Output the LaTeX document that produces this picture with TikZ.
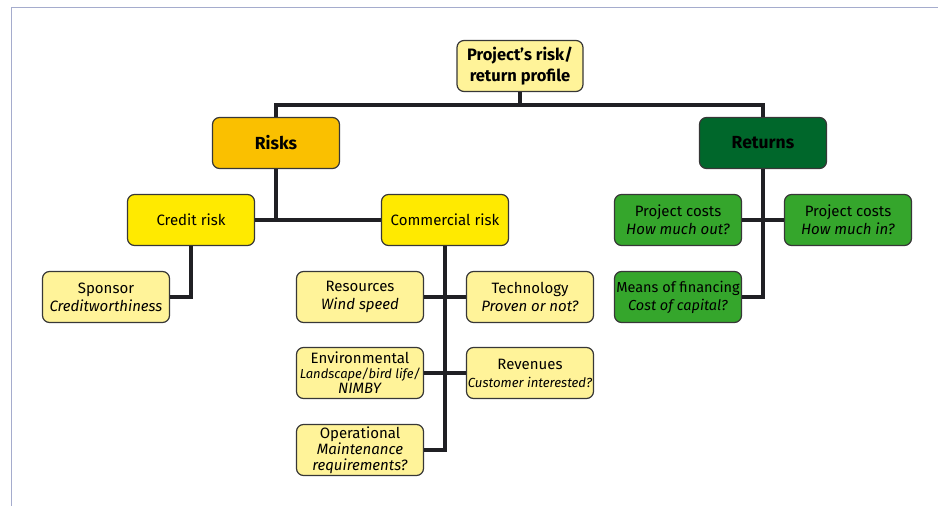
\documentclass[tikz,border=0pt]{standalone}
\usepackage{fontspec}
\setmainfont{Fira Sans}
\usetikzlibrary{positioning}

\definecolor{framegray}{RGB}{165,172,205}
\definecolor{boxline}{RGB}{55,55,55}
\definecolor{connblack}{RGB}{32,32,36}
\definecolor{paleyellow}{RGB}{255,243,153}
\definecolor{riskyellow}{RGB}{255,234,0}
\definecolor{riskorange}{RGB}{250,192,0}
\definecolor{retgreen}{RGB}{0,103,43}
\definecolor{costgreen}{RGB}{53,166,44}

\tikzset{
  box/.style={draw=boxline, line width=1.2pt, rounded corners=7pt, align=center,
    minimum width=127pt, minimum height=51pt, inner sep=0.5pt,
    font=\fontsize{15}{18}\selectfont},
  topbox/.style={box, fill=riskorange, font=\fontsize{17.5}{20}\selectfont\bfseries},
  conn/.style={connblack, line width=4pt}
}

\begin{document}
\begin{tikzpicture}[x=1pt,y=-1pt]
\useasboundingbox (0,0) rectangle (938,506);
%Rahmen
	\draw[framegray, line width=1pt] (11,506)--(11,7)--(938,7);

%Knoten
	\node[box, fill=paleyellow, minimum width=126pt, font=\fontsize{16.5}{21}\selectfont\bfseries] (root) at (520,66) {Project’s risk/\\return profile};
	\node[topbox] (risks) at (276,143) {Risks};
	\node[topbox, fill=retgreen] (returns) at (763,143) {Returns};
	
	%Risiken
	\node[box, fill=riskyellow] (credit) at (191,220) {Credit risk};
	\node[box, fill=riskyellow] (commercial) at (445,220) {Commercial risk};
	\node[box, fill=paleyellow] (sponsor) at (106,297) {Sponsor\\\textit{Creditworthiness}};
	\node[box, fill=paleyellow] (resources) at (360,297) {Resources\\\textit{Wind speed}};
	\node[box, fill=paleyellow] (technology) at (530,297) {Technology\\\textit{Proven or not?}};
	\node[box, fill=paleyellow, font=\fontsize{15}{15}\selectfont] (environmental) at (360,373) {Environmental\\{\fontsize{13}{15}\selectfont\itshape Landscape/bird life/}\\\textit{NIMBY}};
	\node[box, fill=paleyellow] (revenues) at (530,373) {Revenues\\{\fontsize{13.2}{16}\selectfont\itshape Customer interested?}};
	\node[box, fill=paleyellow, font=\fontsize{15}{16}\selectfont] (operational) at (360,450) {Operational\\\textit{Maintenance}\\\textit{requirements?}};
	
	%Ertraege
	\node[box, fill=costgreen] (costsout) at (678,220) {Project costs\\\textit{How much out?}};
	\node[box, fill=costgreen] (costsin) at (848,220) {Project costs\\\textit{How much in?}};
	\node[box, fill=costgreen, font=\fontsize{14.5}{18}\selectfont] (financing) at (678,297) {Means of financing\\\textit{Cost of capital?}};

%Verbindungen
	\draw[conn] (root.south)--++(0,13);
	\draw[conn] (risks.north)--++(0,-12)-|(returns.north);
	\draw[conn] (risks.south)--(risks.south |- credit.east);
	\draw[conn] (credit.east)--(commercial.west);
	\draw[conn] (credit.south)|-(sponsor.east);
	\draw[conn] (commercial.south)|-(operational.east);
	\draw[conn] (resources.east)--(technology.west);
	\draw[conn] (environmental.east)--(revenues.west);
	\draw[conn] (returns.south)|-(financing.east);
	\draw[conn] (costsout.east)--(costsin.west);
\end{tikzpicture}
\end{document}
